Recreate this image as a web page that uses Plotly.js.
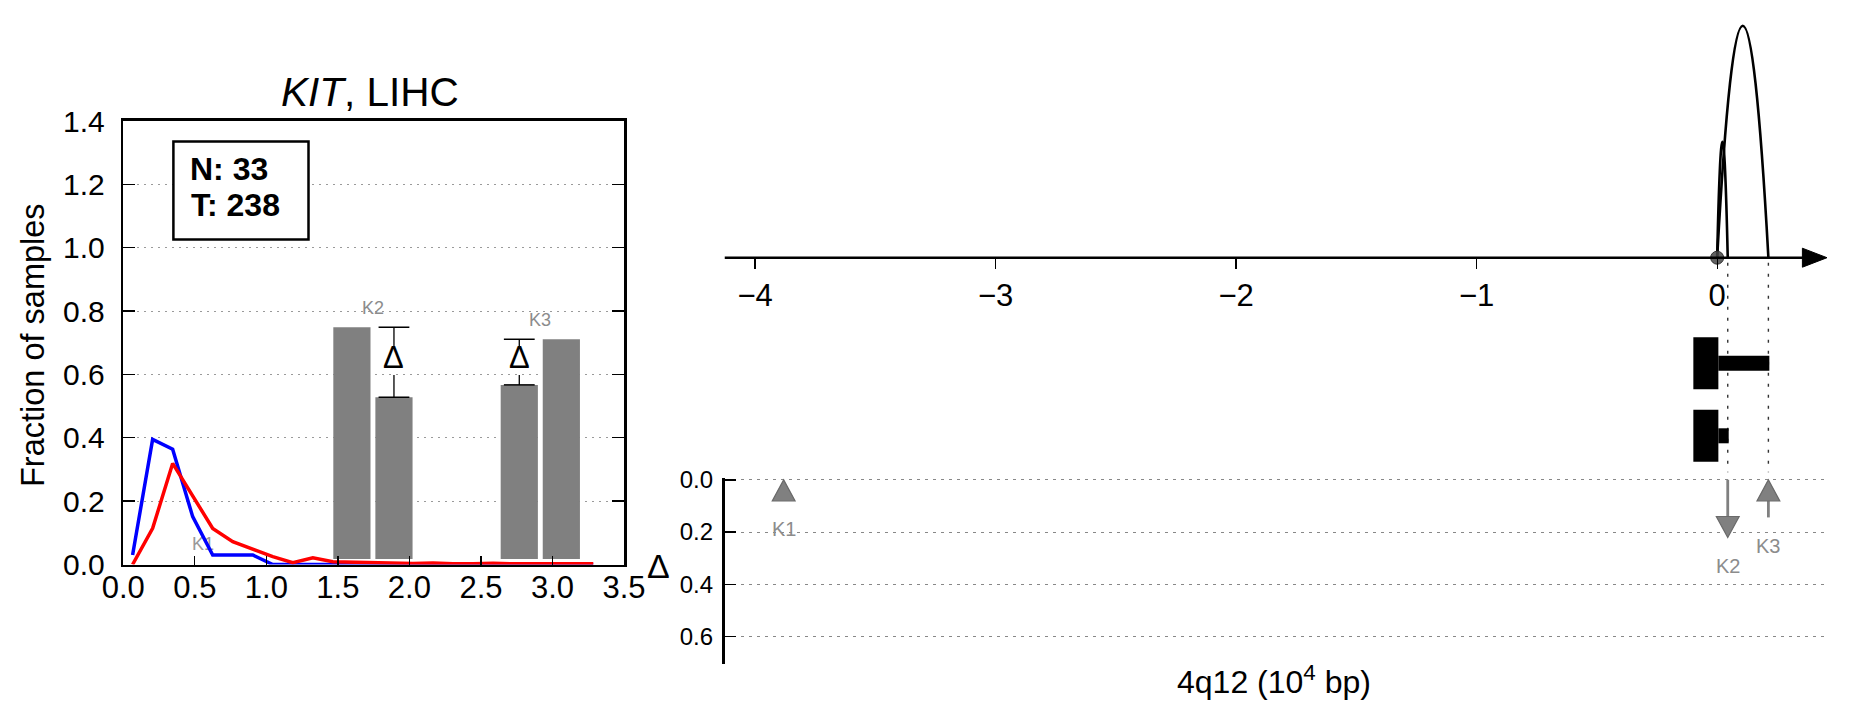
<!DOCTYPE html>
<html><head><meta charset="utf-8">
<script src="https://cdn.plot.ly/plotly-3.0.1.min.js"></script>
<style>html,body{margin:0;padding:0;background:#fff}#chart{width:1851px;height:718px}</style>
</head><body><div id="chart"></div>
<script>
// ---------------- data ----------------
const geneName = 'KIT';
const cancerType = 'LIHC';
const nNormal = 33;
const nTumor = 238;
// distribution curves (left panel)
const distX = [0.065,0.205,0.345,0.485,0.625,0.765,0.905,1.045,1.185,1.325,1.465,1.605,1.745,1.885,2.025,2.165,2.305,2.445,2.585,2.725,2.865,3.005,3.145,3.285];
const normalFrac = [0.03,0.395,0.364,0.151,0.030,0.030,0.030,0,0,0,0,0,0,0,0,0,0,0,0,0,0,0,0,0];
const tumorFrac  = [0.0,0.114,0.319,0.218,0.114,0.072,0.049,0.025,0.006,0.0215,0.009,0.008,0.007,0.006,0.003,0.005,0.002,0.002,0.004,0.002,0.002,0.002,0.002,0.002];
// sites
const siteNames   = ['K1','K2','K3'];
const siteBarX    = [0.557, 1.745, 2.915];      // pair centres, left panel
const normalBar   = [0, 0.749, 0.567];
const tumorBar    = [0, 0.528, 0.711];
const sitePos     = [-3.881, 0.044, 0.213];     // 10^4 bp
const siteDelta   = [-0.03, 0.221, -0.144];
// arcs (right panel)
const arcEnds     = [0.044, 0.213];
const arcHeights  = [0.5, 1.0];
// transcript tracks
const exonStart   = -0.099;
const exonEnd     = 0.005;
const trackEnds   = [0.217, 0.048];
const locusTicks  = [-4,-3,-2,-1,0];
const deltaTicks  = [0,0.2,0.4,0.6];
const fracTicks   = [0,0.2,0.4,0.6,0.8,1.0,1.2,1.4];
const distTicks   = [0,0.5,1.0,1.5,2.0,2.5,3.0,3.5];

// ---------------- layout helpers ----------------
const W = 1851, H = 718;
const px = x => x / W;
const py = y => 1 - y / H;
const FONT = 'Liberation Sans, Arial, Helvetica, sans-serif';
const GRAY = '#808080';

// left panel box (px)
const L = {l: 123.3, r: 624, t: 121, b: 564.5};
// right panel
const R = {l: 724.5, r: 1829, axisY: 257.7, dTop: 478.3, dBot: 664};
const locusRange = [-4.127, 0.465];
const deltaRange = [0.706, -0.006];
const xPerPx = (locusRange[1] - locusRange[0]) / (R.r - R.l);
const dPerPx = (deltaRange[0] - deltaRange[1]) / (R.dBot - R.dTop);

const barBase = 0.017, barOff = 0.147, barWidth = 0.26;

const traces = [];
// bars
const bx = [], by = [];
siteBarX.forEach((c, i) => {
  bx.push(c - barOff, c + barOff);
  by.push(Math.max(normalBar[i] - barBase, 0), Math.max(tumorBar[i] - barBase, 0));
});
traces.push({type: 'bar', x: bx, y: by, base: barBase, width: barWidth,
  marker: {color: GRAY, line: {width: 0}}, xaxis: 'x', yaxis: 'y', hoverinfo: 'skip'});
// K1 label beneath the curves
traces.push({type: 'scatter', mode: 'text', x: [siteBarX[0]], y: [Math.max(normalBar[0], tumorBar[0]) + 0.06],
  text: [siteNames[0]], textfont: {family: FONT, size: 18, color: '#999'}, xaxis: 'x', yaxis: 'y', hoverinfo: 'skip'});
traces.push({type: 'scatter', mode: 'lines', x: distX, y: normalFrac, line: {color: '#0000ff', width: 3.5},
  xaxis: 'x', yaxis: 'y', hoverinfo: 'skip'});
traces.push({type: 'scatter', mode: 'lines', x: distX, y: tumorFrac, line: {color: '#ff0000', width: 3.5},
  xaxis: 'x', yaxis: 'y', hoverinfo: 'skip'});

// error bars with delta symbol
const gapTop = 0.69, gapBot = 0.598, deltaY = 0.652;
const annotations = [];
siteBarX.forEach((c, i) => {
  const lo = Math.min(normalBar[i], tumorBar[i]);
  const hi = Math.max(normalBar[i], tumorBar[i]);
  if (hi <= 0) return;
  const x = normalBar[i] < tumorBar[i] ? c - barOff : c + barOff;
  const ex = [], ey = [];
  ex.push(x, x); ey.push(hi, Math.min(hi, gapTop));
  ex.push(null); ey.push(null);
  ex.push(x, x); ey.push(Math.min(gapBot, hi), lo);
  traces.push({type: 'scatter', mode: 'lines', x: ex, y: ey, line: {color: '#000', width: 1.3},
    xaxis: 'x', yaxis: 'y', hoverinfo: 'skip', connectgaps: false});
  traces.push({type: 'scatter', mode: 'markers', x: [x, x], y: [lo, hi],
    marker: {symbol: 'line-ew', size: 22, line: {width: 1.5, color: '#000'}},
    xaxis: 'x', yaxis: 'y', hoverinfo: 'skip'});
  annotations.push({xref: 'x', yref: 'y', x: x, y: deltaY, text: 'Δ', showarrow: false,
    font: {family: FONT, size: 31, color: '#000'}, xanchor: 'center', yanchor: 'middle'});
  annotations.push({xref: 'x', yref: 'y', x: c, y: hi + 0.06, text: siteNames[i], showarrow: false,
    font: {family: FONT, size: 18, color: '#8c8c8c'}, xanchor: 'center', yanchor: 'middle'});
});

// right panel: dot at 0
traces.push({type: 'scatter', mode: 'markers', x: [0], y: [0], xaxis: 'x2', yaxis: 'y3', cliponaxis: false,
  marker: {size: 13, color: 'rgba(70,70,70,0.85)', line: {width: 1, color: '#333'}}, hoverinfo: 'skip'});

// delta arrows
const headHalfW = 11.4 * xPerPx, headLen = 21 * dPerPx;
const shapes = [];
sitePos.forEach((p, i) => {
  const len = Math.abs(siteDelta[i]);
  const down = siteDelta[i] > 0;
  const tail = down ? 0 : len;
  const tip = down ? len : 0;
  const base = down ? tip - headLen : tip + headLen;
  if (len > headLen) {
    traces.push({type: 'scatter', mode: 'lines', x: [p, p], y: [tail, base], xaxis: 'x2', yaxis: 'y4',
      line: {color: GRAY, width: 2.8}, hoverinfo: 'skip'});
  }
  shapes.push({type: 'path', xref: 'x2', yref: 'y4',
    path: `M ${p - headHalfW},${base} L ${p + headHalfW},${base} L ${p},${tip} Z`,
    fillcolor: GRAY, line: {color: '#6a6a6a', width: 1.2}});
  const lowest = Math.max(tail, tip, base);
  annotations.push({xref: 'x2', yref: 'y4', x: p, y: lowest + 0.108, text: siteNames[i], showarrow: false,
    font: {family: FONT, size: 20, color: '#8c8c8c'}, xanchor: 'center', yanchor: 'middle'});
});
// invisible trace to hold the delta subplot
traces.push({type: 'scatter', mode: 'lines', x: [locusRange[0]], y: [0], xaxis: 'x2', yaxis: 'y4',
  line: {width: 0}, hoverinfo: 'skip', showlegend: false});

// arcs
arcEnds.forEach((e, i) => {
  shapes.push({type: 'path', xref: 'x2', yref: 'y3', layer: 'below',
    path: `M 0,0 Q ${e / 2},${2 * arcHeights[i]} ${e},0`, line: {color: '#000', width: 2.6}});
});
// axis line and arrow head
const tipX = locusRange[1] - 2 * xPerPx;
const arrowBase = tipX - 24.6 * xPerPx;
shapes.push({type: 'line', xref: 'x2', yref: 'paper', x0: locusRange[0], x1: arrowBase + 2 * xPerPx,
  y0: py(R.axisY), y1: py(R.axisY), line: {color: '#000', width: 2.6}});
shapes.push({type: 'path', xref: 'x2', yref: 'paper',
  path: `M ${arrowBase},${py(R.axisY - 9.5)} L ${tipX},${py(R.axisY)} L ${arrowBase},${py(R.axisY + 9.5)} Z`,
  fillcolor: '#000', line: {color: '#000', width: 1}});
// dotted guide lines
arcEnds.forEach(e => {
  shapes.push({type: 'line', xref: 'x2', yref: 'paper', x0: e, x1: e, y0: py(R.axisY + 5), y1: py(R.dTop - 6),
    layer: 'below', line: {color: '#333', width: 1.4, dash: '3px,8px'}});
});
// transcript tracks
const trackY = [363.3, 435.8];
trackY.forEach((cy, i) => {
  shapes.push({type: 'rect', xref: 'x2', yref: 'paper', x0: exonStart, x1: exonEnd,
    y0: py(cy + 26), y1: py(cy - 26), fillcolor: '#000', line: {width: 0}});
  shapes.push({type: 'rect', xref: 'x2', yref: 'paper', x0: exonEnd, x1: trackEnds[i],
    y0: py(cy + 7.5), y1: py(cy - 7.5), fillcolor: '#000', line: {width: 0}});
});
// N/T box
shapes.push({type: 'rect', xref: 'paper', yref: 'paper', x0: px(173.4), x1: px(308.5), y0: py(239.6), y1: py(141.4),
  fillcolor: '#fff', line: {color: '#000', width: 2.5}});
annotations.push({xref: 'paper', yref: 'paper', x: px(187.5), y: py(169), xanchor: 'left', yanchor: 'middle',
  text: '<b>N: ' + nNormal + '</b>', showarrow: false, font: {family: FONT, size: 32, color: '#000'}});
annotations.push({xref: 'paper', yref: 'paper', x: px(188.5), y: py(204.6), xanchor: 'left', yanchor: 'middle',
  text: '<b>T: ' + nTumor + '</b>', showarrow: false, font: {family: FONT, size: 32, color: '#000'}});
// titles
annotations.push({xref: 'paper', yref: 'paper', x: px(370), y: py(92), xanchor: 'center', yanchor: 'middle',
  text: '<i>' + geneName + '</i>, ' + cancerType, showarrow: false, font: {family: FONT, size: 40.5, color: '#000'}});
annotations.push({xref: 'paper', yref: 'paper', x: px(32.5), y: py(345.5), xanchor: 'center', yanchor: 'middle',
  textangle: -90, text: 'Fraction of samples', showarrow: false, font: {family: FONT, size: 32.5, color: '#000'}});
annotations.push({xref: 'paper', yref: 'paper', x: px(658), y: py(566), xanchor: 'center', yanchor: 'middle',
  text: 'Δ', showarrow: false, font: {family: FONT, size: 34, color: '#000'}});
annotations.push({xref: 'paper', yref: 'paper', x: px(1274), y: py(680), xanchor: 'center', yanchor: 'middle',
  text: '4q12 (10<sup>4</sup> bp)', showarrow: false, font: {family: FONT, size: 32, color: '#000'}});

const layout = {
  width: W, height: H, margin: {l: 0, r: 0, t: 0, b: 0}, showlegend: false,
  paper_bgcolor: '#fff', plot_bgcolor: '#fff', font: {family: FONT, color: '#000'},
  xaxis: {domain: [px(L.l), px(L.r)], range: [0, 3.5], anchor: 'y', tickvals: distTicks, tickformat: '.1f',
    ticks: 'inside', ticklen: 9, tickwidth: 1.3, tickcolor: '#000', showline: true, linewidth: 2.6, linecolor: '#000',
    mirror: true, showgrid: false, zeroline: false, tickfont: {family: FONT, size: 31}, ticklabelstandoff: -6},
  yaxis: {domain: [py(L.b), py(L.t)], range: [0, 1.4], anchor: 'x', tickvals: fracTicks, tickformat: '.1f',
    ticks: 'inside', ticklen: 12, tickwidth: 1.3, tickcolor: '#000', showline: true, linewidth: 2.6, linecolor: '#000',
    mirror: 'ticks', showgrid: true, gridcolor: '#9a9a9a', gridwidth: 1, griddash: '2px,5px', zeroline: false,
    tickfont: {family: FONT, size: 30}, ticklabelstandoff: 10},
  xaxis2: {domain: [px(R.l), px(R.r)], range: locusRange, anchor: 'free', position: py(R.axisY),
    tickvals: locusTicks, tickformat: 'd', ticks: 'outside', ticklen: 10, tickwidth: 1.3, tickcolor: '#000',
    showline: false, showgrid: false, zeroline: false, tickfont: {family: FONT, size: 31}, ticklabelstandoff: 0},
  yaxis3: {domain: [py(R.axisY), 1], range: [0, R.axisY / 232], anchor: 'x2', visible: false, showgrid: false, zeroline: false},
  yaxis4: {domain: [py(R.dBot), py(R.dTop)], range: deltaRange, anchor: 'x2', tickvals: deltaTicks, tickformat: '.1f',
    ticks: 'inside', ticklen: 11, tickwidth: 1.3, tickcolor: '#000', showline: true, linewidth: 2.6, linecolor: '#000',
    showgrid: true, gridcolor: '#888', gridwidth: 1, griddash: '3px,5px', zeroline: false,
    tickfont: {family: FONT, size: 24}, ticklabelstandoff: 4},
  shapes: shapes, annotations: annotations
};
Plotly.newPlot('chart', traces, layout, {staticPlot: true, displayModeBar: false});
</script></body></html>
